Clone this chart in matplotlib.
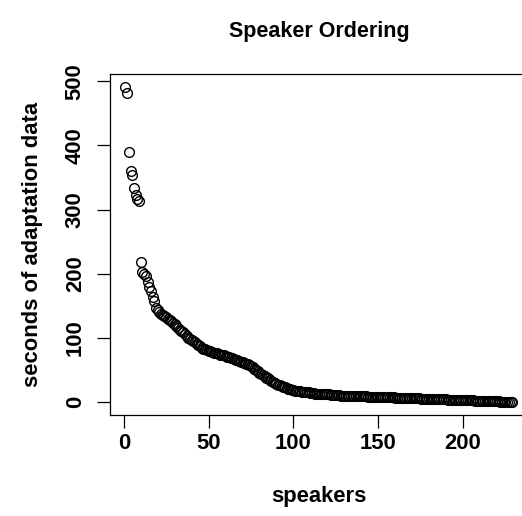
import numpy as np
import matplotlib.pyplot as plt

# seconds of adaptation data per speaker, sorted from most to least
seconds = [
    491, 481, 390, 360, 354, 333, 322, 317, 314, 218,
    203, 200, 197, 187, 180, 173, 163, 158, 146, 143,
    140, 138, 136, 134, 132, 130, 128, 126, 124, 121,
    118, 115, 113, 111, 109, 106, 103, 100, 98, 97,
    95, 93, 91, 89, 87, 85, 83, 82, 81, 80,
    79, 78, 77, 77, 76, 75, 74, 74, 73, 72,
    71, 70, 69, 68, 67, 66, 65, 64, 63, 62,
    61, 60, 59, 58, 56, 54, 52, 50, 48, 46,
    44, 42, 40, 38, 37, 35, 33, 31, 29, 28,
    27, 26, 25, 24, 23, 22, 21, 20, 19, 19,
    18, 18, 17, 17, 16, 16, 15, 15, 15, 14,
    14, 14, 13, 13, 13, 13, 12, 12, 12, 12,
    12, 11, 11, 11, 11, 11, 11, 10, 10, 10,
    10.0, 9.9, 9.8, 9.7, 9.6, 9.5, 9.4, 9.3, 9.2, 9.1,
    9.0, 8.9, 8.8, 8.7, 8.6, 8.5, 8.4, 8.3, 8.2, 8.1,
    8.0, 7.9, 7.8, 7.7, 7.6, 7.5, 7.4, 7.3, 7.2, 7.1,
    7.0, 6.9, 6.8, 6.7, 6.6, 6.5, 6.4, 6.3, 6.2, 6.1,
    6.0, 5.9, 5.8, 5.7, 5.6, 5.5, 5.4, 5.3, 5.2, 5.1,
    5.0, 4.9, 4.8, 4.7, 4.6, 4.5, 4.4, 4.3, 4.2, 4.1,
    4.0, 3.9, 3.8, 3.7, 3.6, 3.5, 3.4, 3.3, 3.2, 3.1,
    3.0, 2.9, 2.8, 2.7, 2.6, 2.5, 2.4, 2.3, 2.2, 2.1,
    2.0, 1.9, 1.8, 1.7, 1.6, 1.5, 1.4, 1.3, 1.2, 1.1,
    1.0, 0.9, 0.8, 0.7, 0.6, 0.5, 0.4, 0.2, 0.0,
]
speakers = np.arange(1, len(seconds) + 1)

xticks = [0, 50, 100, 150, 200]
yticks = [0, 100, 200, 300, 400, 500]

plt.rcParams['font.family'] = ['Liberation Sans', 'DejaVu Sans']
plt.rcParams['font.weight'] = 'bold'
plt.rcParams['axes.labelweight'] = 'bold'
plt.rcParams['font.size'] = 15.8

fig = plt.figure(figsize=(5.22, 5.16), dpi=100)
# right edge sits past the figure border, like the R device crop
ax = fig.add_axes([0.2107, 0.1963, 0.8003, 0.6597])

ax.plot(speakers, seconds, 'o', ms=7, mfc='none', mec='black', mew=1.0)

# R-style 4% padding on both axes
xr = speakers.max() - speakers.min()
yr = max(seconds) - min(seconds)
ax.set_xlim(speakers.min() - 0.04 * xr, speakers.max() + 0.04 * xr)
ax.set_ylim(min(seconds) - 0.04 * yr, max(seconds) + 0.04 * yr)

ax.set_xticks(xticks)
ax.set_yticks(yticks)
ax.tick_params(direction='out', length=9.4, width=0.9)
ax.tick_params(axis='x', pad=4)
ax.tick_params(axis='y', labelrotation=90, pad=8)
for lbl in ax.get_yticklabels():
    lbl.set_va('center')
for s in ax.spines.values():
    s.set_linewidth(0.9)

ax.set_title('Speaker Ordering', fontsize=15.5, fontweight='bold', pad=27)
ax.set_xlabel('speakers', labelpad=23)
ax.set_ylabel('seconds of adaptation data', labelpad=16)

fig.savefig('out.png', dpi=100)
